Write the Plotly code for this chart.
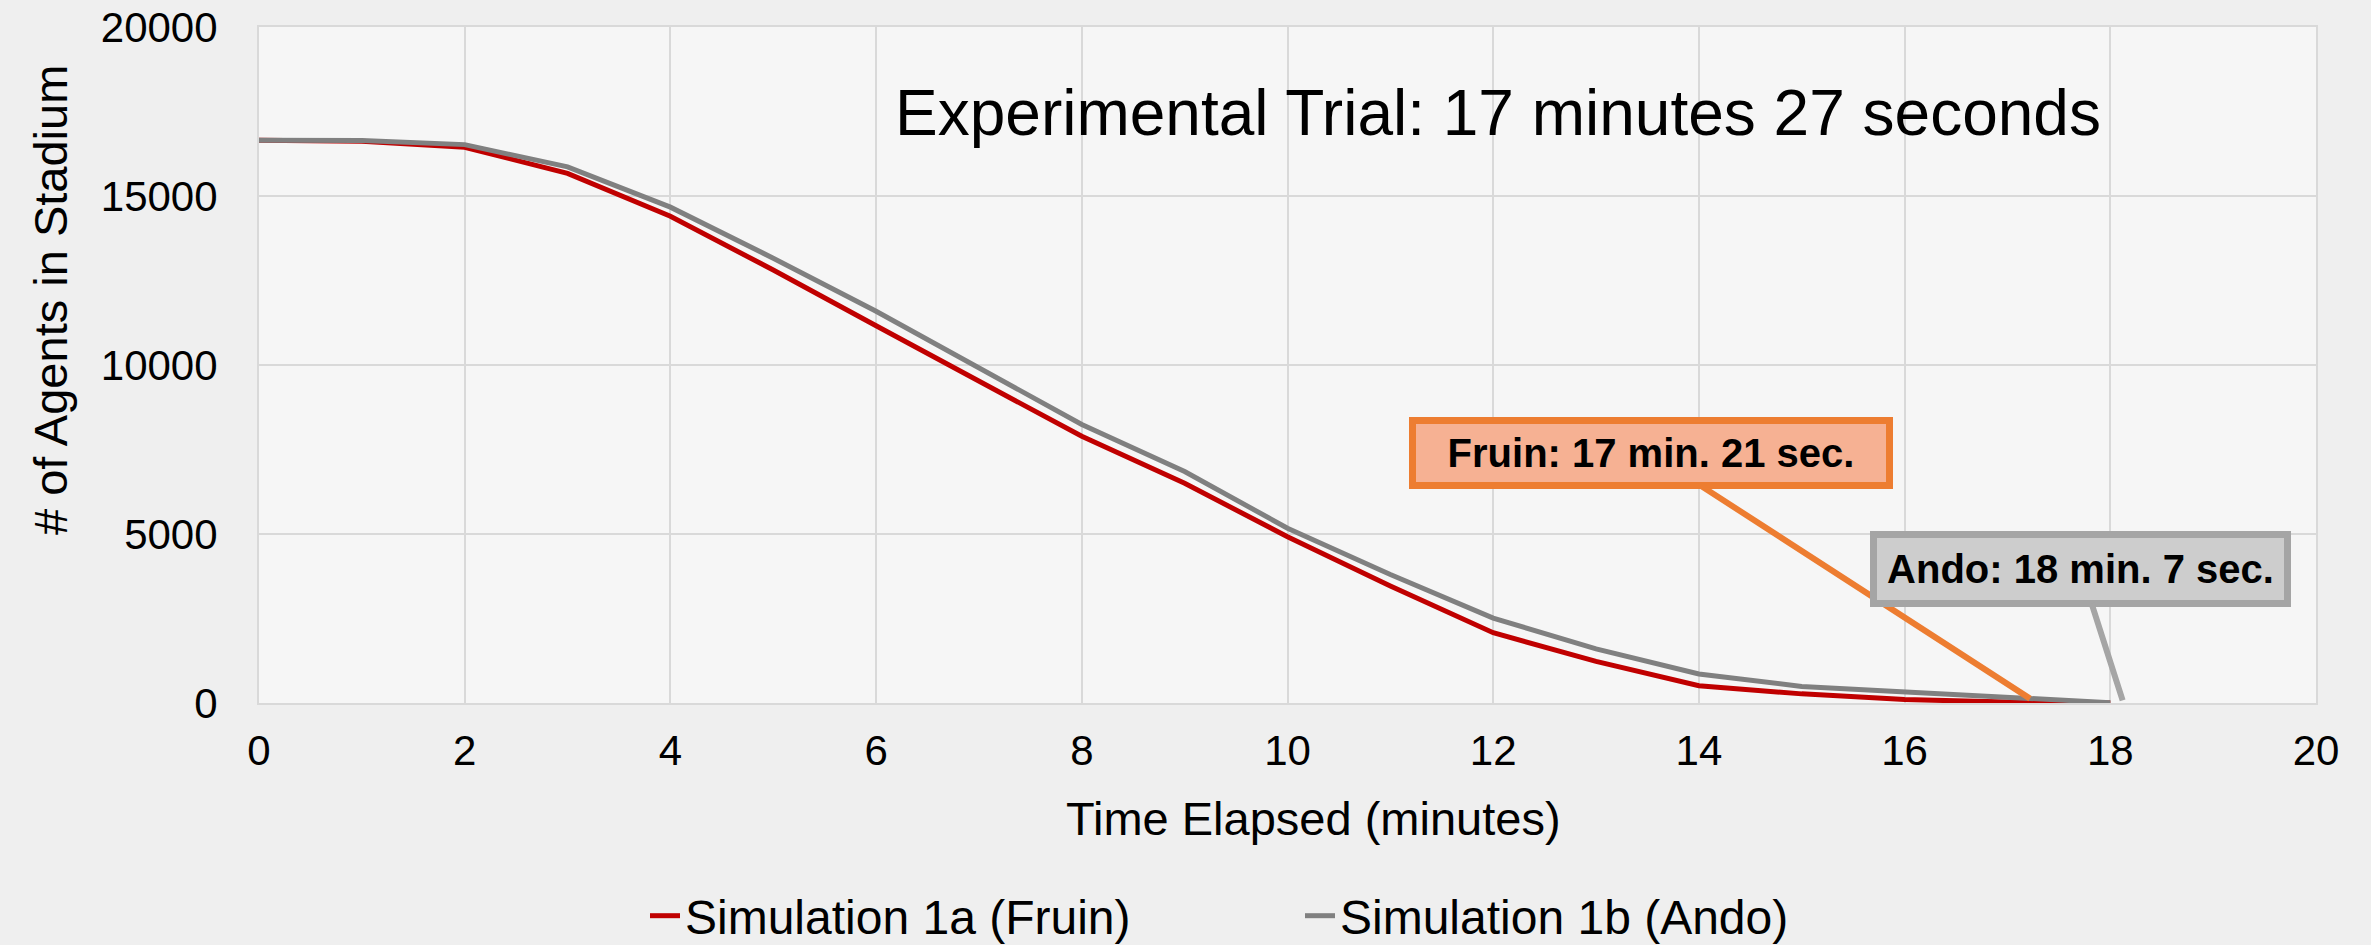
import plotly.graph_objects as go

# ---- data ----
minutes = list(range(0, 19))
fruin = [16650, 16620, 16440, 15670, 14400, 12810, 11160, 9520, 7890, 6500,
         4920, 3460, 2080, 1230, 510, 270, 100, 30, 0]
ando = [16650, 16640, 16520, 15860, 14670, 13160, 11590, 9920, 8240, 6850,
        5170, 3800, 2510, 1600, 860, 490, 320, 170, 10]
series_names = ["Simulation 1a (Fruin)", "Simulation 1b (Ando)"]
title_text = "Experimental Trial: 17 minutes 27 seconds"
fruin_label = "Fruin: 17 min. 21 sec."
ando_label = "Ando: 18 min. 7 sec."
fruin_end = (17.22, 130)
ando_end = (18.12, 80)
x_title = "Time Elapsed (minutes)"
y_title = "# of Agents in Stadium"

FONT = "Liberation Sans, Arial, sans-serif"
GRID = "#d9d9d9"

W, H = 2371, 945
ML, MR, MT, MB = 259, 55, 27, 242
plot_w = W - ML - MR
plot_h = H - MT - MB


def px_x(px):
    return (px - ML) / plot_w


def px_y(py):
    return (H - MB - py) / plot_h


fig = go.Figure()
fig.add_trace(go.Scatter(x=minutes, y=fruin, mode="lines", name=series_names[0],
                         line=dict(color="#C00000", width=5)))
fig.add_trace(go.Scatter(x=minutes, y=ando, mode="lines", name=series_names[1],
                         line=dict(color="#808080", width=5)))

fig.update_layout(
    width=W, height=H,
    margin=dict(l=ML, r=MR, t=MT, b=MB, autoexpand=False),
    paper_bgcolor="#efefef", plot_bgcolor="#f6f6f6",
    font=dict(family=FONT, size=42, color="#000000"),
    showlegend=True,
    legend=dict(orientation="h", x=px_x(1300), xanchor="center", y=px_y(916), yanchor="middle",
                font=dict(family=FONT, size=48, color="#000000"),
                bgcolor="rgba(0,0,0,0)", entrywidth=610, entrywidthmode="pixels"),
)
fig.update_xaxes(range=[0, 20], dtick=2, tick0=0, showgrid=True, gridcolor=GRID, gridwidth=2,
                 showline=True, linecolor=GRID, linewidth=2, mirror=True, zeroline=False,
                 ticks="", ticklabelstandoff=10, tickfont=dict(size=42))
fig.update_yaxes(range=[0, 20000], dtick=5000, tick0=0, tickformat="d",
                 showgrid=True, gridcolor=GRID, gridwidth=2,
                 showline=True, linecolor=GRID, linewidth=2, mirror=True, zeroline=False,
                 ticks="", ticklabelstandoff=31, tickfont=dict(size=42))

# title inside plot
fig.add_annotation(x=px_x(1498), y=px_y(113), xref="paper", yref="paper", text=title_text,
                   showarrow=False, xanchor="center", yanchor="middle",
                   font=dict(family=FONT, size=64))
# axis titles
fig.add_annotation(x=px_x(50), y=px_y(300), xref="paper", yref="paper", text=y_title,
                   showarrow=False, textangle=-90, xanchor="center", yanchor="middle",
                   font=dict(family=FONT, size=47))
fig.add_annotation(x=px_x(1313), y=px_y(818), xref="paper", yref="paper", text=x_title,
                   showarrow=False, xanchor="center", yanchor="middle",
                   font=dict(family=FONT, size=47))

# callouts
fig.add_annotation(x=fruin_end[0], y=fruin_end[1], xref="x", yref="y",
                   ax=13.53, ay=7390, axref="x", ayref="y",
                   text="<b>" + fruin_label + "</b>", showarrow=True, arrowhead=0,
                   arrowwidth=6, arrowcolor="#ED7D31",
                   bgcolor="#F6B193", bordercolor="#ED7D31", borderwidth=7, borderpad=0,
                   width=470, height=58, align="center",
                   font=dict(family=FONT, size=40, color="#000000"))
fig.add_annotation(x=ando_end[0], y=ando_end[1], xref="x", yref="y",
                   ax=17.71, ay=3970, axref="x", ayref="y",
                   text="<b>" + ando_label + "</b>", showarrow=True, arrowhead=0,
                   arrowwidth=6, arrowcolor="#A5A5A5",
                   bgcolor="#CDCDCD", bordercolor="#A5A5A5", borderwidth=7, borderpad=0,
                   width=407, height=62, align="center",
                   font=dict(family=FONT, size=40, color="#000000"))

fig.write_html("out.html", config={"displayModeBar": False},
               post_script="document.body.style.margin='0';")
